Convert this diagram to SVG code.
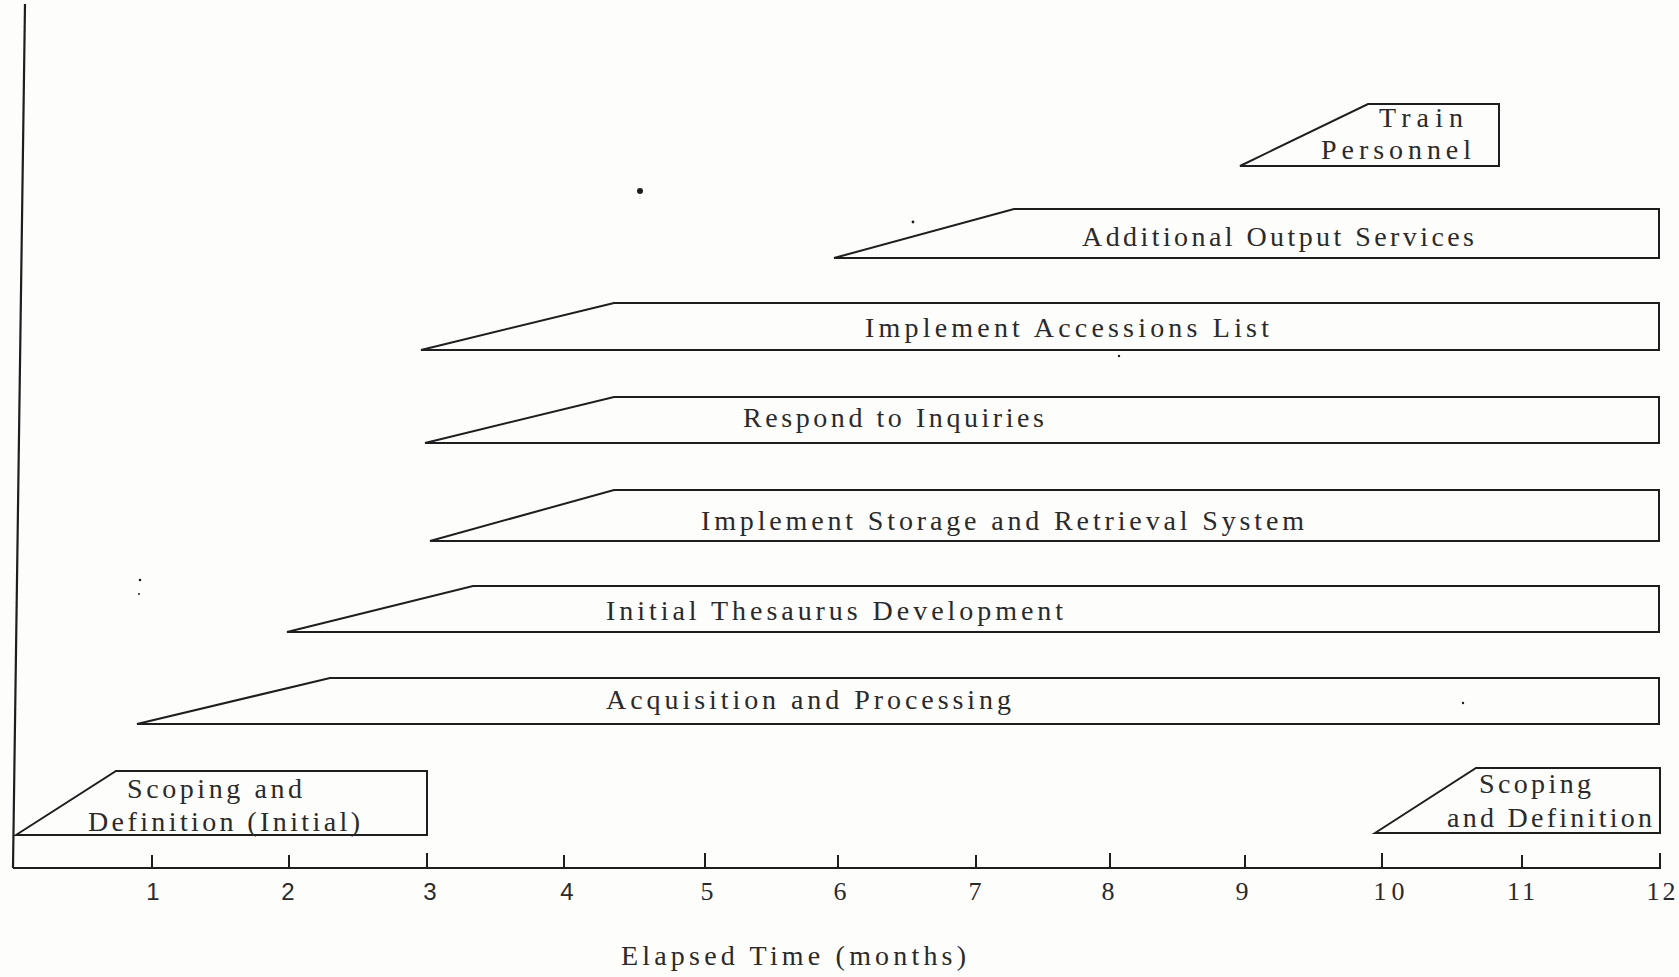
<svg xmlns="http://www.w3.org/2000/svg" width="1679" height="977" viewBox="0 0 1679 977">
  <style>
    .bg { fill: #fdfdfc; }
    .bar { fill: none; stroke: #1e1e1e; stroke-width: 2; stroke-linejoin: miter; }
    .axis { fill: none; stroke: #1e1e1e; stroke-width: 2.2; }
    .tick { stroke: #1e1e1e; stroke-width: 2; }
    .lbl { font-family: "Liberation Serif", "Times New Roman", serif; font-size: 28px; fill: #2a2a2a; }
    .num { font-family: "Liberation Serif", "Times New Roman", serif; font-size: 26px; fill: #2a2a2a; text-anchor: middle; }
    .num-s { font-family: "Liberation Sans", Arial, sans-serif; font-size: 24px; fill: #2a2a2a; text-anchor: middle; }
    .speck { fill: #1e1e1e; }
  </style>

  <rect class="bg" x="0" y="0" width="1679" height="977"/>

  <!-- time axis -->
  <g id="axis">
    <line class="axis" x1="25" y1="4" x2="13" y2="868"/>
    <line class="axis" x1="13" y1="868" x2="1661" y2="868"/>
    <g id="ticks">
      <line class="tick" x1="152" y1="855" x2="152" y2="868"/>
      <line class="tick" x1="289" y1="855" x2="289" y2="868"/>
      <line class="tick" x1="427" y1="853" x2="427" y2="868"/>
      <line class="tick" x1="564" y1="855" x2="564" y2="868"/>
      <line class="tick" x1="705" y1="853" x2="705" y2="868"/>
      <line class="tick" x1="838" y1="855" x2="838" y2="868"/>
      <line class="tick" x1="976" y1="855" x2="976" y2="868"/>
      <line class="tick" x1="1110" y1="853" x2="1110" y2="868"/>
      <line class="tick" x1="1245" y1="855" x2="1245" y2="868"/>
      <line class="tick" x1="1382" y1="853" x2="1382" y2="868"/>
      <line class="tick" x1="1522" y1="855" x2="1522" y2="868"/>
      <line class="tick" x1="1660" y1="853" x2="1660" y2="868"/>
    </g>
    <g id="tick-labels">
      <text class="num-s" x="153" y="900">1</text>
      <text class="num-s" x="288" y="900">2</text>
      <text class="num-s" x="430" y="900">3</text>
      <text class="num-s" x="567" y="900">4</text>
      <text class="num" x="707" y="900">5</text>
      <text class="num" x="840" y="900">6</text>
      <text class="num" x="975" y="900">7</text>
      <text class="num" x="1108" y="900">8</text>
      <text class="num" x="1242" y="900">9</text>
      <text class="num" x="1389" y="900" textLength="31" lengthAdjust="spacing">10</text>
      <text class="num" x="1521" y="900" textLength="28" lengthAdjust="spacing">11</text>
      <text class="num" x="1661" y="900" textLength="29" lengthAdjust="spacing">12</text>
    </g>
    <text id="axis-title" class="lbl" x="621" y="965" textLength="345" lengthAdjust="spacing">Elapsed Time (months)</text>
  </g>

  <!-- activity bars: sloped start, flat run to the end of the period -->
  <g id="train-personnel">
    <polygon class="bar" points="1240,166 1368,104 1499,104 1499,166"/>
    <text class="lbl" x="1379" y="127" textLength="84" lengthAdjust="spacing">Train</text>
    <text class="lbl" x="1321" y="159" textLength="150" lengthAdjust="spacing">Personnel</text>
  </g>

  <g id="additional-output-services">
    <polygon class="bar" points="834,258 1014,209 1659,209 1659,258"/>
    <text class="lbl" x="1082" y="246" textLength="392" lengthAdjust="spacing">Additional Output Services</text>
  </g>

  <g id="implement-accessions-list">
    <polygon class="bar" points="421,350 614,303 1659,303 1659,350"/>
    <text class="lbl" x="865" y="337" textLength="404" lengthAdjust="spacing">Implement Accessions List</text>
  </g>

  <g id="respond-to-inquiries">
    <polygon class="bar" points="425,443 614,397 1659,397 1659,443"/>
    <text class="lbl" x="743" y="427" textLength="301" lengthAdjust="spacing">Respond to Inquiries</text>
  </g>

  <g id="implement-storage-retrieval">
    <polygon class="bar" points="430,541 614,490 1659,490 1659,541"/>
    <text class="lbl" x="701" y="530" textLength="603" lengthAdjust="spacing">Implement Storage and Retrieval System</text>
  </g>

  <g id="initial-thesaurus">
    <polygon class="bar" points="287,632 473,586 1659,586 1659,632"/>
    <text class="lbl" x="606" y="620" textLength="457" lengthAdjust="spacing">Initial Thesaurus Development</text>
  </g>

  <g id="acquisition-processing">
    <polygon class="bar" points="137,724 330,678 1659,678 1659,724"/>
    <text class="lbl" x="606" y="709" textLength="405" lengthAdjust="spacing">Acquisition and Processing</text>
  </g>

  <g id="scoping-initial">
    <polygon class="bar" points="16,835 116,771 427,771 427,835"/>
    <text class="lbl" x="127" y="798" textLength="175" lengthAdjust="spacing">Scoping and</text>
    <text class="lbl" x="88" y="831" textLength="272" lengthAdjust="spacing">Definition (Initial)</text>
  </g>

  <g id="scoping-final">
    <polygon class="bar" points="1375,833 1476,768 1660,768 1660,833"/>
    <text class="lbl" x="1479" y="793" textLength="112" lengthAdjust="spacing">Scoping</text>
    <text class="lbl" x="1447" y="827" textLength="205" lengthAdjust="spacing">and Definition</text>
  </g>

  <!-- loose ink marks on the sheet -->
  <g id="specks">
    <circle class="speck" cx="640" cy="191" r="3"/>
    <circle class="speck" cx="913" cy="222" r="1.4"/>
    <circle class="speck" cx="140" cy="580" r="1.3"/>
    <circle class="speck" cx="139" cy="594" r="1"/>
    <circle class="speck" cx="1119" cy="356" r="1.2"/>
    <circle class="speck" cx="1463" cy="703" r="1.2"/>
  </g>
</svg>
